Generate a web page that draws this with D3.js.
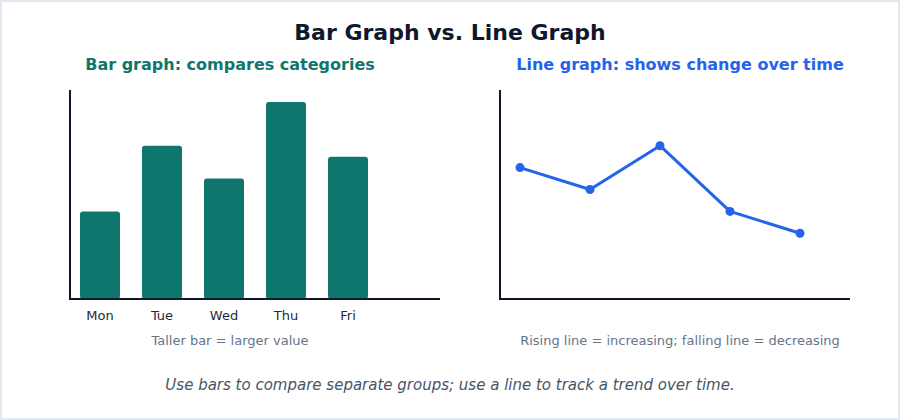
<!DOCTYPE html>
<html>
<head>
<meta charset="utf-8">
<script src="https://cdn.jsdelivr.net/npm/d3@7"></script>
<style>
  body { margin: 0; background: #fff; }
  svg { display: block; font-family: "DejaVu Sans", sans-serif; }
</style>
</head>
<body>
<div class="board"></div>
<script>
var days = ['Mon', 'Tue', 'Wed', 'Thu', 'Fri'];
var barValues = [40, 70, 55, 90, 65];
var lineValues = [60, 50, 70, 40, 30];

var width = 900, height = 420;
var teal = '#0f766e', blue = '#2563eb', ink = '#0f172a';

var svg = d3.select('.board').append('svg')
  .attr('width', width)
  .attr('height', height);

svg.append('rect')
  .attr('x', 1).attr('y', 1)
  .attr('width', width - 2).attr('height', height - 2)
  .attr('fill', '#fff')
  .attr('stroke', '#e2e8f0')
  .attr('stroke-width', 2);

svg.append('text')
  .attr('x', width / 2).attr('y', 40)
  .attr('text-anchor', 'middle')
  .attr('font-size', 22).attr('font-weight', 'bold')
  .attr('fill', ink)
  .text('Bar Graph vs. Line Graph');

// shared vertical scale
var y = d3.scaleLinear().domain([0, 100]).range([299, 80]);

// ---- bar graph ----
svg.append('text')
  .attr('x', 230).attr('y', 70)
  .attr('text-anchor', 'middle')
  .attr('font-size', 16).attr('font-weight', 'bold')
  .attr('fill', teal)
  .text('Bar graph: compares categories');

var xBar = d3.scaleBand().domain(days).range([80, 368]).paddingInner(22 / 62).paddingOuter(0);

svg.selectAll('.bar').data(barValues).enter().append('rect')
  .attr('class', 'bar')
  .attr('x', function(d, i) { return xBar(days[i]); })
  .attr('y', function(d) { return y(d); })
  .attr('width', xBar.bandwidth())
  .attr('height', function(d) { return y(0) - y(d); })
  .attr('rx', 3)
  .attr('fill', teal);

svg.selectAll('.day').data(days).enter().append('text')
  .attr('class', 'day')
  .attr('x', function(d) { return xBar(d) + xBar.bandwidth() / 2; })
  .attr('y', 320)
  .attr('text-anchor', 'middle')
  .attr('font-size', 13)
  .attr('fill', '#1f2937')
  .text(function(d) { return d; });

svg.append('line').attr('x1', 70).attr('x2', 70).attr('y1', 90).attr('y2', 300)
  .attr('stroke', ink).attr('stroke-width', 2);
svg.append('line').attr('x1', 69).attr('x2', 440).attr('y1', 299).attr('y2', 299)
  .attr('stroke', ink).attr('stroke-width', 2);

svg.append('text')
  .attr('x', 230).attr('y', 345)
  .attr('text-anchor', 'middle')
  .attr('font-size', 13)
  .attr('fill', '#64748b')
  .text('Taller bar = larger value');

// ---- line graph ----
svg.append('text')
  .attr('x', 680).attr('y', 70)
  .attr('text-anchor', 'middle')
  .attr('font-size', 16).attr('font-weight', 'bold')
  .attr('fill', blue)
  .text('Line graph: shows change over time');

var xLine = d3.scalePoint().domain(days).range([520, 800]);

var line = d3.line()
  .x(function(d, i) { return xLine(days[i]); })
  .y(function(d) { return y(d); });

svg.append('path').datum(lineValues)
  .attr('d', line)
  .attr('fill', 'none')
  .attr('stroke', blue)
  .attr('stroke-width', 3)
  .attr('stroke-linejoin', 'round');

svg.selectAll('.pt').data(lineValues).enter().append('circle')
  .attr('class', 'pt')
  .attr('cx', function(d, i) { return xLine(days[i]); })
  .attr('cy', function(d) { return y(d); })
  .attr('r', 4.5)
  .attr('fill', blue);

svg.append('line').attr('x1', 500).attr('x2', 500).attr('y1', 90).attr('y2', 300)
  .attr('stroke', ink).attr('stroke-width', 2);
svg.append('line').attr('x1', 499).attr('x2', 850).attr('y1', 299).attr('y2', 299)
  .attr('stroke', ink).attr('stroke-width', 2);

svg.append('text')
  .attr('x', 680).attr('y', 345)
  .attr('text-anchor', 'middle')
  .attr('font-size', 13)
  .attr('fill', '#64748b')
  .text('Rising line = increasing; falling line = decreasing');

svg.append('text')
  .attr('x', width / 2).attr('y', 390)
  .attr('text-anchor', 'middle')
  .attr('font-size', 15).attr('font-style', 'italic')
  .attr('fill', '#475569')
  .text('Use bars to compare separate groups; use a line to track a trend over time.');
</script>
</body>
</html>
